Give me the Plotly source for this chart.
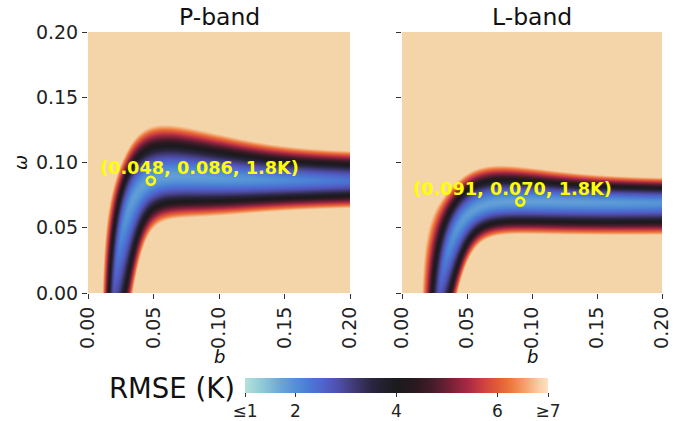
import numpy as np
import plotly.graph_objects as go

# ---------------- data ----------------
bands = ["P-band", "L-band"]
best_b = [0.048, 0.091]
best_omega = [0.086, 0.070]
best_rmse = [1.8, 1.8]

# tau-omega shape parameters chosen so the valley matches the picture
soil_refl = [0.30, 0.40]            # soil reflectivity
veg_k = [32.0, 31.0]                # gamma = exp(-k * b)
# width of the valley
kap_left = [0.31, 0.52]
kap_right = [1.12, 0.88]
kap_grow = [3.0, 3.0]
widen_up = [0.9, 0.7]
widen_lo = [0.65, 0.0]
widen_center = [0.10, 0.10]
widen_len = [0.03, 0.03]
sig_out = [0.0087, 0.0070]          # omega scale outside the bend
sig_in = [0.0080, 0.0092]           # omega scale inside the bend
rise_power = [1.6, 1.6]
beta_b = [100.0, 47.0]
beta_w = [600.0, 790.0]

rmse_min, rmse_max = 1, 7
cbar_vals = [1, 2, 4, 6, 7]
cbar_text = ["≤1", "2", "4", "6", "≥7"]
tick_vals = [0.0, 0.05, 0.10, 0.15, 0.20]

# icefire-like colormap
cmap_pos = [0.0, 0.06, 0.12, 0.17, 0.215, 0.265, 0.31, 0.36, 0.42, 0.5,
            0.56, 0.62, 0.68, 0.74, 0.79, 0.84, 0.88, 0.93, 0.97, 1.0]
cmap_col = ["#b3e2d8", "#8ec8d6", "#6aa4d6", "#518fd6", "#4a78d4", "#5060c8",
            "#4e4eaa", "#403a75", "#29253f", "#1b1a1d", "#281920", "#461c2a",
            "#772137", "#ab2b43", "#d0433e", "#e25f38", "#ed7b3f", "#f5a673",
            "#fbcda6", "#fde1c2"]
heat_tail = ["#f2a672", "#f4c597", "#f4d5aa"]

# ---------------- field ----------------
N = 261
bgrid = np.linspace(0, 0.2, N)
wgrid = np.linspace(0, 0.2, N)
B, W = np.meshgrid(bgrid, wgrid)


def emissivity(x, w, g):
    return (1 - w) * (1 - x) * (1 + g * x) + (1 - g) * x


def field(i):
    g, k = soil_refl[i], veg_k[i]
    x = np.exp(-k * B)
    e_best = emissivity(np.exp(-k * best_b[i]), best_omega[i], g)
    de = emissivity(x, W, g) - e_best
    e_w = -(1 - x) * (1 + g * x)
    e_x = (1 - W) * (g - 1 - 2 * g * x) + (1 - g)
    e_b = -k * x * e_x
    outer = de < 0
    sg = 1.0 / (1.0 + np.exp((B - widen_center[i]) / widen_len[i]))
    wid = np.where(outer, 1 + widen_up[i] * sg, 1 + widen_lo[i] * sg)
    kap = np.where(outer, kap_left[i], kap_right[i]) * (1 + kap_grow[i] * W)
    D = de / np.sqrt((wid * e_w) ** 2 + (kap * e_b) ** 2)
    s = np.where(outer, sig_out[i], sig_in[i])
    rmin = np.sqrt(best_rmse[i] ** 2 + beta_b[i] * (B - best_b[i]) ** 2
                   + beta_w[i] * (W - best_omega[i]) ** 2)
    R = rmin + np.abs(D / s) ** rise_power[i]
    return np.round(np.clip(R, rmse_min, rmse_max), 3)


cs_bar = [[p, c] for p, c in zip(cmap_pos, cmap_col)]
cs_heat = [[p, c] for p, c in zip(cmap_pos, cmap_col[:-3] + heat_tail)]

FONT = "DejaVu Sans"
fig = go.Figure()
for i in range(2):
    xa = "x" if i == 0 else "x2"
    ya = "y" if i == 0 else "y2"
    fig.add_trace(go.Heatmap(x=bgrid, y=wgrid, z=field(i), zmin=rmse_min, zmax=rmse_max,
                             colorscale=cs_heat, showscale=False, xaxis=xa, yaxis=ya,
                             hoverinfo="skip"))
    fig.add_trace(go.Scatter(x=[best_b[i]], y=[best_omega[i]], mode="markers",
                             marker=dict(symbol="circle-open", size=8, color="#ffff00",
                                         line=dict(width=2.6, color="#ffff00")),
                             xaxis=xa, yaxis=ya, showlegend=False, hoverinfo="skip"))
    fig.add_annotation(x=0.085, y=best_omega[i] + 0.0095, xref=xa, yref=ya,
                       text="<b>(%.3f, %.3f, %.1fK)</b>" % (best_b[i], best_omega[i], best_rmse[i]),
                       showarrow=False, xanchor="center", yanchor="middle",
                       font=dict(family=FONT, size=17.7, color="#ffff00"))

# colorbar carrier
fig.add_trace(go.Scatter(x=[None], y=[None], mode="markers", showlegend=False,
                         marker=dict(color=[rmse_min], cmin=rmse_min, cmax=rmse_max,
                                     colorscale=cs_bar, showscale=True,
                                     colorbar=dict(orientation="h", x=396.5 / 688, xanchor="center",
                                                   y=(421 - 378) / 421, yanchor="top",
                                                   len=303 / 688, lenmode="fraction",
                                                   thickness=15, outlinewidth=0, xpad=0, ypad=0,
                                                   tickvals=cbar_vals, ticktext=cbar_text,
                                                   ticks="outside", ticklen=4, tickcolor="#333",
                                                   tickfont=dict(family=FONT, size=17, color="#222")))))

W_, H_ = 688, 421
axis_common = dict(range=[0, 0.2], tickvals=tick_vals, tickformat=".2f", ticks="outside",
                   ticklen=5, tickwidth=1, tickcolor="#333", showgrid=False, zeroline=False,
                   showline=False, automargin=False,
                   tickfont=dict(family=FONT, size=19, color="#222"))
fig.update_layout(
    width=W_, height=H_, margin=dict(l=0, r=0, t=0, b=0, autoexpand=False),
    paper_bgcolor="white", plot_bgcolor="white", showlegend=False,
    xaxis=dict(domain=[88 / W_, 350 / W_], anchor="y", tickangle=-90, **axis_common),
    xaxis2=dict(domain=[402 / W_, 662 / W_], anchor="y2", tickangle=-90, **axis_common),
    yaxis=dict(domain=[(H_ - 293) / H_, (H_ - 32) / H_], anchor="x", **axis_common),
    yaxis2=dict(domain=[(H_ - 293) / H_, (H_ - 32) / H_], anchor="x2", showticklabels=False,
                **axis_common),
)

# titles and axis labels
for cx, name in [((88 + 350) / 2, bands[0]), ((402 + 662) / 2, bands[1])]:
    fig.add_annotation(x=cx / W_, y=(H_ - 17) / H_, xref="paper", yref="paper", text=name,
                       showarrow=False, xanchor="center", yanchor="middle",
                       font=dict(family=FONT, size=23.5, color="#111"))
    fig.add_annotation(x=cx / W_, y=(H_ - 356) / H_, xref="paper", yref="paper", text="<i>b</i>",
                       showarrow=False, xanchor="center", yanchor="middle",
                       font=dict(family=FONT, size=18, color="#111"))
fig.add_annotation(x=21 / W_, y=(H_ - 163) / H_, xref="paper", yref="paper", text="<i>ω</i>",
                   showarrow=False, xanchor="center", yanchor="middle", textangle=-90,
                   font=dict(family=FONT, size=18, color="#111"))
fig.add_annotation(x=172 / W_, y=(H_ - 388) / H_, xref="paper", yref="paper", text="RMSE (K)",
                   showarrow=False, xanchor="center", yanchor="middle",
                   font=dict(family=FONT, size=27.5, color="#111"))

fig.write_html("out.html", config={"displayModeBar": False},
               post_script="document.body.style.margin='0';"
                           "document.body.style.overflow='hidden';")
